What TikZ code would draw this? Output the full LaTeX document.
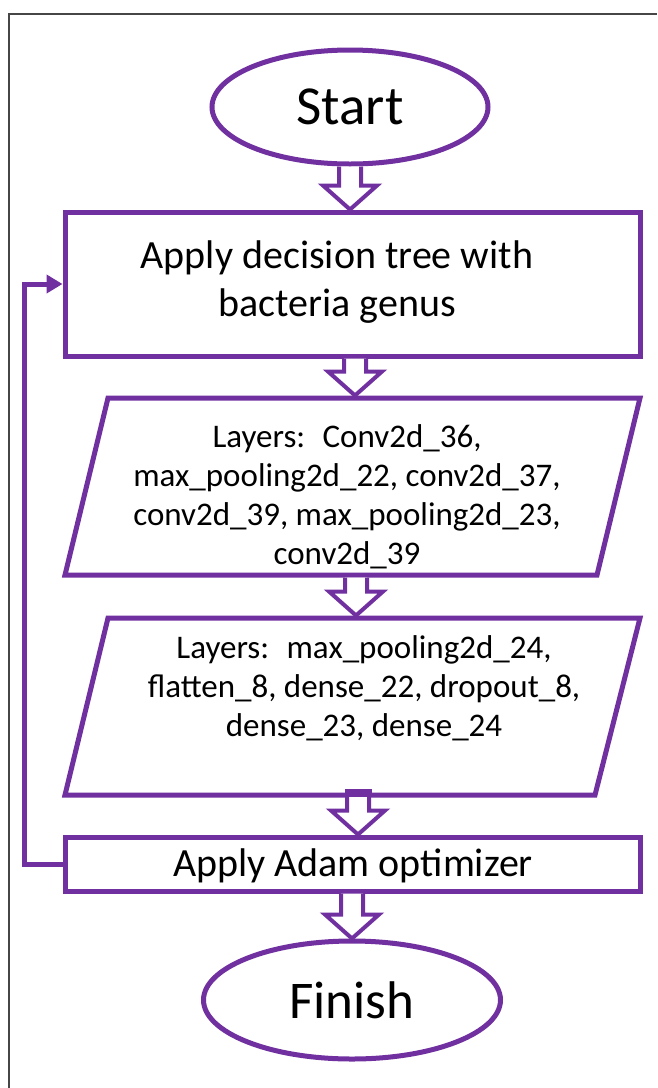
\documentclass[tikz,border=0pt]{standalone}
\usepackage{fontspec}
\setmainfont{Carlito}
\usetikzlibrary{shapes.geometric,arrows.meta,calc}
\definecolor{vio}{RGB}{112,48,160}
\definecolor{framegray}{RGB}{70,70,70}
\newcommand{\hollowarrow}[3][]{%
  \draw[harrow,#1] let \p1=(#2), \p2=(#3) in
    (\x1-11pt,\y1) -- (\x1-11pt,\y2+24pt) -- (\x1-27pt,\y2+24pt) -- (\x1,\y2)
    -- (\x1+27pt,\y2+24pt) -- (\x1+11pt,\y2+24pt) -- (\x1+11pt,\y1);}
\begin{document}
\begin{tikzpicture}[x=1pt,y=-1pt,
  box/.style={draw=vio,line width=5pt,fill=white},
  harrow/.style={draw=vio,line width=4pt,fill=white,line join=miter},
  txt/.style={align=center,inner sep=0pt,text=black},
  feedback/.style={draw=vio,line width=5pt,-{Triangle[length=16pt,width=18pt]}}]
\useasboundingbox (0,0) rectangle (657,1088);
\draw[framegray,line width=2.2pt] (9,1088) -- (9,14) -- (657,14);

% shapes
\node[box,ellipse,minimum width=276pt,minimum height=114pt,inner sep=0pt,
      font=\fontsize{55}{66}\selectfont] (start) at (350,107) {Start};
\node[box,rectangle,minimum width=575pt,minimum height=144pt] (r1) at (352.5,284) {};
\node[txt,font=\fontsize{40}{48}\selectfont] (t1) at (337,282)
  {Apply decision tree with\\bacteria genus};

\draw[box] (65,575) -- (597,575) -- (640,398) -- (108,398) -- cycle;
\coordinate (p1n) at (355,395.5);
\coordinate (p1s) at (356,577.5);
\node[txt,font=\fontsize{33}{39}\selectfont] (t2) at (347,497)
  {Layers:~ Conv2d\_36,\\max\_pooling2d\_22, conv2d\_37,\\conv2d\_39, max\_pooling2d\_23,\\conv2d\_39};

\draw[box] (65,795) -- (595,795) -- (640,618) -- (108,618) -- cycle;
\coordinate (p2n) at (356,615.5);
\coordinate (p2s) at (358,792.5);
\node[txt,font=\fontsize{33}{39}\selectfont] (t3) at (364,688)
  {Layers:~ max\_pooling2d\_24,\\flatten\_8, dense\_22, dropout\_8,\\dense\_23, dense\_24};

\node[box,rectangle,minimum width=575pt,minimum height=54pt] (r2) at (352.5,864) {};
\node[txt,font=\fontsize{40}{48}\selectfont] (t4) at (353,866) {Apply Adam optimizer};

\node[box,ellipse,minimum width=297pt,minimum height=118pt,inner sep=0pt,
      font=\fontsize{53}{64}\selectfont] (finish) at (352,1000) {Finish};

% block arrows
\hollowarrow{start.south}{r1.north -| start.south}
\hollowarrow{r1.south -| p1n}{p1n}
\hollowarrow{p1s}{p2n -| p1s}
\hollowarrow{p2s}{r2.north -| p2s}
\draw[vio,fill=vio] ($(p2s)+(-13,-3)$) rectangle ($(p2s)+(13,4)$);
\hollowarrow{r2.south -| finish.north}{finish.north}

% feedback loop
\coordinate (fb) at (24,864);
\draw[feedback] (r2.west) -- (fb) |- (r1.west);
\end{tikzpicture}
\end{document}
